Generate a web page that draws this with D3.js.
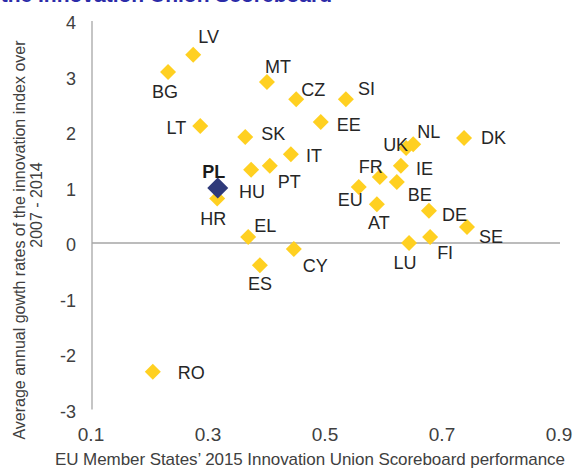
<!DOCTYPE html>
<html>
<head>
<meta charset="utf-8">
<script src="https://cdn.jsdelivr.net/npm/d3@7"></script>
<style>
  body { margin: 0; background: #fff; }
  text { font-family: "Liberation Sans", Arial, sans-serif; }
</style>
</head>
<body>
<div id="chart"></div>
<script>
// country codes, 2015 IUS score (x) and avg growth 2007-2014 (y)
var countries = ["LV", "BG", "MT", "CZ", "LT", "SK", "IT", "PT", "HU", "HR", "EL", "CY", "ES", "RO",
                 "SI", "EE", "NL", "UK", "DK", "IE", "FR", "BE", "EU", "AT", "DE", "SE", "FI", "LU", "PL"];
var scores  = [0.273, 0.230, 0.399, 0.449, 0.285, 0.362, 0.440, 0.404, 0.372, 0.314, 0.367, 0.445, 0.387, 0.204,
               0.534, 0.491, 0.649, 0.637, 0.736, 0.628, 0.592, 0.621, 0.556, 0.587, 0.676, 0.741, 0.678, 0.642, 0.315];
var growth  = [3.39, 3.08, 2.90, 2.59, 2.11, 1.91, 1.60, 1.39, 1.32, 0.80, 0.11, -0.11, -0.40, -2.32,
               2.59, 2.18, 1.78, 1.71, 1.89, 1.39, 1.19, 1.10, 1.01, 0.70, 0.58, 0.29, 0.11, 0.00, 0.99];
var highlight = "PL";

var xTicks = [0.1, 0.3, 0.5, 0.7, 0.9];
var yTicks = [4, 3, 2, 1, 0, -1, -2, -3];

// where each label sits relative to its marker (layout only)
var labelPos = {
    LV: [5, -18, "start"], BG: [-3, 20, "middle"], MT: [-2, -15, "start"], CZ: [5, -10, "start"],
    LT: [-14, 2, "end"], SK: [16, -3, "start"], IT: [15, 1, "start"], PT: [8, 16, "start"],
    HU: [-12, 22, "start"], PL: [-4, -16, "middle"], HR: [-4, 20, "middle"], EL: [6, -11, "start"],
    CY: [9, 17, "start"], ES: [0, 18, "middle"], RO: [25, 1, "start"], SI: [12, -11, "start"],
    EE: [16, 3, "start"], NL: [4, -13, "start"], UK: [2, -3, "end"], DK: [17, 0, "start"],
    IE: [15, 3, "start"], FR: [3, -10, "end"], BE: [11, 13, "start"], EU: [4, 13, "end"],
    AT: [2, 19, "middle"], DE: [13, 4, "start"], SE: [12, 10, "start"], FI: [7, 16, "start"],
    LU: [-4, 20, "middle"]
};

var W = 574, H = 468;
var data = countries.map(function (c, i) { return { code: c, x: scores[i], y: growth[i] }; });

var svg = d3.select("#chart").append("svg")
    .attr("width", W)
    .attr("height", H);

var x = d3.scaleLinear().domain([0.1, 0.9]).range([92, 560]);
var y = d3.scaleLinear().domain([-3, 4]).range([409.5, 21]);

// clipped heading at the very top
svg.append("text")
    .attr("x", 332).attr("y", 2)
    .attr("text-anchor", "end")
    .style("font-size", "21px")
    .style("font-weight", "bold")
    .style("fill", "#2B2BA8")
    .text("in the Innovation Union Scoreboard");

// y axis line and zero line
svg.append("line")
    .attr("x1", x(0.1)).attr("x2", x(0.1))
    .attr("y1", y(4)).attr("y2", y(-3))
    .attr("stroke", "#a6a6a6").attr("stroke-width", 1.3);
svg.append("line")
    .attr("x1", x(0.1)).attr("x2", x(0.9))
    .attr("y1", y(0)).attr("y2", y(0))
    .attr("stroke", "#a6a6a6").attr("stroke-width", 1.3);

// tick labels
svg.append("g").selectAll("text")
    .data(yTicks).enter().append("text")
    .attr("x", 76)
    .attr("y", function (d) { return y(d) + 2; })
    .attr("dy", "0.35em")
    .attr("text-anchor", "end")
    .style("font-size", "18px")
    .style("fill", "#404040")
    .text(function (d) { return d; });

svg.append("g").selectAll("text")
    .data(xTicks).enter().append("text")
    .attr("x", function (d) { return x(d) - 1; })
    .attr("y", 441)
    .attr("text-anchor", "middle")
    .style("font-size", "19px")
    .style("fill", "#404040")
    .text(function (d) { return d3.format(".1f")(d); });

// axis titles
svg.append("text")
    .attr("x", 55).attr("y", 465)
    .attr("textLength", 510)
    .attr("lengthAdjust", "spacing")
    .style("font-size", "17px")
    .style("fill", "#404040")
    .text("EU Member States\u2019 2015 Innovation Union Scoreboard performance");

svg.append("text")
    .attr("transform", "translate(25,240) rotate(-90)")
    .attr("text-anchor", "middle")
    .style("font-size", "16px")
    .style("fill", "#404040")
    .text("Average annual gowth rates of the innovation index over");
svg.append("text")
    .attr("transform", "translate(42,205) rotate(-90)")
    .attr("text-anchor", "middle")
    .style("font-size", "16px")
    .style("fill", "#404040")
    .text("2007 - 2014");

// markers, highlighted country last so it sits on top
var sorted = data.slice().sort(function (a, b) { return (a.code == highlight) - (b.code == highlight); });
svg.append("g").selectAll("path")
    .data(sorted).enter().append("path")
    .attr("transform", function (d) { return "translate(" + x(d.x) + "," + y(d.y) + ")"; })
    .attr("d", function (d) {
        var s = d.code == highlight ? 10.5 : 8;
        return "M0," + (-s) + "L" + s + ",0L0," + s + "L" + (-s) + ",0Z";
    })
    .attr("fill", function (d) { return d.code == highlight ? "#2F3A7A" : "#FFD021"; });

// labels
svg.append("g").selectAll("text")
    .data(data).enter().append("text")
    .attr("x", function (d) { return x(d.x) + labelPos[d.code][0]; })
    .attr("y", function (d) { return y(d.y) + labelPos[d.code][1]; })
    .attr("dy", "0.35em")
    .attr("text-anchor", function (d) { return labelPos[d.code][2]; })
    .style("font-size", "18px")
    .style("font-weight", function (d) { return d.code == highlight ? "bold" : "normal"; })
    .style("fill", function (d) { return d.code == highlight ? "#1a1a1a" : "#262626"; })
    .text(function (d) { return d.code; });
</script>
</body>
</html>
